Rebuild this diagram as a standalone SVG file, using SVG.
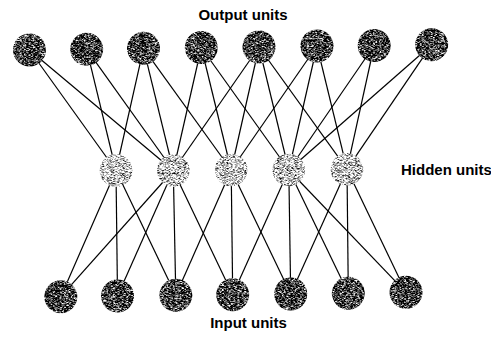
<svg xmlns="http://www.w3.org/2000/svg" width="491" height="339" viewBox="0 0 491 339">
<defs>
<filter id="dark" x="-10%" y="-10%" width="120%" height="120%" color-interpolation-filters="sRGB">
<feTurbulence type="fractalNoise" baseFrequency="0.45 1.6" numOctaves="2" seed="4" result="n"/>
<feColorMatrix in="n" type="matrix" values="2.6 0 0 0 -1.05  2.6 0 0 0 -1.05  2.6 0 0 0 -1.05  0 0 0 0 1" result="g"/>
<feComposite in="g" in2="SourceGraphic" operator="in"/>
</filter>
<filter id="light" x="-10%" y="-10%" width="120%" height="120%" color-interpolation-filters="sRGB">
<feTurbulence type="fractalNoise" baseFrequency="0.45 1.6" numOctaves="2" seed="7" result="n"/>
<feColorMatrix in="n" type="matrix" values="2.4 0 0 0 -0.45  2.4 0 0 0 -0.45  2.4 0 0 0 -0.45  0 0 0 0 1" result="g"/>
<feComposite in="g" in2="SourceGraphic" operator="in"/>
</filter>
</defs>
<style>
.c line{stroke:#000;stroke-width:1.2}
.dk{fill:#000;filter:url(#dark)}
.lt{fill:#000;filter:url(#light)}
.lab{font-family:"Liberation Sans",Arial,sans-serif;font-weight:bold;font-size:15px;fill:#000}
</style>
<rect width="491" height="339" fill="#fff"/>
<g id="connectors" class="c">
<line x1="29.5" y1="50" x2="116" y2="170.5"/>
<line x1="29.5" y1="50" x2="173.3" y2="170.5"/>
<line x1="86.7" y1="49.3" x2="116" y2="170.5"/>
<line x1="86.7" y1="49.3" x2="173.3" y2="170.5"/>
<line x1="143.5" y1="48.3" x2="116" y2="170.5"/>
<line x1="143.5" y1="48.3" x2="173.3" y2="170.5"/>
<line x1="143.5" y1="48.3" x2="231.2" y2="170"/>
<line x1="201.3" y1="47.5" x2="173.3" y2="170.5"/>
<line x1="201.3" y1="47.5" x2="231.2" y2="170"/>
<line x1="201.3" y1="47.5" x2="288.8" y2="170"/>
<line x1="259" y1="47" x2="173.3" y2="170.5"/>
<line x1="259" y1="47" x2="231.2" y2="170"/>
<line x1="259" y1="47" x2="288.8" y2="170"/>
<line x1="259" y1="47" x2="347" y2="169.2"/>
<line x1="317" y1="46" x2="231.2" y2="170"/>
<line x1="317" y1="46" x2="288.8" y2="170"/>
<line x1="317" y1="46" x2="347" y2="169.2"/>
<line x1="374.2" y1="45.5" x2="288.8" y2="170"/>
<line x1="374.2" y1="45.5" x2="347" y2="169.2"/>
<line x1="431.7" y1="44.7" x2="288.8" y2="170"/>
<line x1="431.7" y1="44.7" x2="347" y2="169.2"/>
<line x1="116" y1="170.5" x2="60.8" y2="296.7"/>
<line x1="116" y1="170.5" x2="117.5" y2="296"/>
<line x1="116" y1="170.5" x2="175.8" y2="295.3"/>
<line x1="173.3" y1="170.5" x2="60.8" y2="296.7"/>
<line x1="173.3" y1="170.5" x2="117.5" y2="296"/>
<line x1="173.3" y1="170.5" x2="175.8" y2="295.3"/>
<line x1="173.3" y1="170.5" x2="232.7" y2="294.7"/>
<line x1="231.2" y1="170" x2="175.8" y2="295.3"/>
<line x1="231.2" y1="170" x2="232.7" y2="294.7"/>
<line x1="231.2" y1="170" x2="290.7" y2="294"/>
<line x1="288.8" y1="170" x2="232.7" y2="294.7"/>
<line x1="288.8" y1="170" x2="290.7" y2="294"/>
<line x1="288.8" y1="170" x2="348.3" y2="293.3"/>
<line x1="288.8" y1="170" x2="406" y2="292.3"/>
<line x1="347" y1="169.2" x2="290.7" y2="294"/>
<line x1="347" y1="169.2" x2="348.3" y2="293.3"/>
<line x1="347" y1="169.2" x2="406" y2="292.3"/>
</g>
<g id="o1"><circle class="dk" cx="29.5" cy="50" r="16.5"/></g>
<g id="o2"><circle class="dk" cx="86.7" cy="49.3" r="16.5"/></g>
<g id="o3"><circle class="dk" cx="143.5" cy="48.3" r="16.5"/></g>
<g id="o4"><circle class="dk" cx="201.3" cy="47.5" r="16.5"/></g>
<g id="o5"><circle class="dk" cx="259" cy="47" r="16.5"/></g>
<g id="o6"><circle class="dk" cx="317" cy="46" r="16.5"/></g>
<g id="o7"><circle class="dk" cx="374.2" cy="45.5" r="16.5"/></g>
<g id="o8"><circle class="dk" cx="431.7" cy="44.7" r="16.5"/></g>
<g id="h1"><circle class="lt" cx="116" cy="170.5" r="16.3"/></g>
<g id="h2"><circle class="lt" cx="173.3" cy="170.5" r="16.3"/></g>
<g id="h3"><circle class="lt" cx="231.2" cy="170" r="16.3"/></g>
<g id="h4"><circle class="lt" cx="288.8" cy="170" r="16.3"/></g>
<g id="h5"><circle class="lt" cx="347" cy="169.2" r="16.3"/></g>
<g id="i1"><circle class="dk" cx="60.8" cy="296.7" r="16.5"/></g>
<g id="i2"><circle class="dk" cx="117.5" cy="296" r="16.5"/></g>
<g id="i3"><circle class="dk" cx="175.8" cy="295.3" r="16.5"/></g>
<g id="i4"><circle class="dk" cx="232.7" cy="294.7" r="16.5"/></g>
<g id="i5"><circle class="dk" cx="290.7" cy="294" r="16.5"/></g>
<g id="i6"><circle class="dk" cx="348.3" cy="293.3" r="16.5"/></g>
<g id="i7"><circle class="dk" cx="406" cy="292.3" r="16.5"/></g>
<g id="label-output"><text class="lab" x="243" y="19.5" text-anchor="middle">Output units</text></g>
<g id="label-hidden"><text class="lab" x="401" y="175">Hidden units</text></g>
<g id="label-input"><text class="lab" x="248.5" y="327.5" text-anchor="middle">Input units</text></g>
</svg>
